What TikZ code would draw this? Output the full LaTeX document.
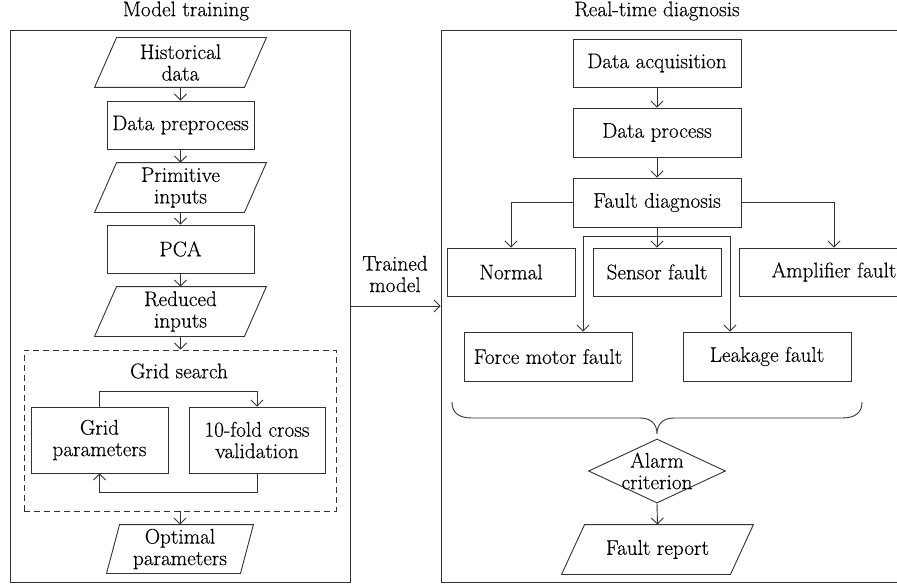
\documentclass[tikz,border=0pt]{standalone}
\usepackage{fontspec}
\setmainfont{Latin Modern Roman}[FakeBold=0.3]
\usetikzlibrary{arrows.meta,shapes.geometric,calc}
\newcommand{\fsz}{\fontsize{21.2}{21.5}\selectfont}
\begin{document}
\begin{tikzpicture}[x=1pt,y=-1pt, line width=0.9pt,
  box/.style={draw=black!80, line width=0.9pt, rectangle, inner sep=0pt, align=center, font=\fsz},
  txt/.style={inner sep=0pt, align=center, font=\fsz},
  para/.style={inner sep=0pt, align=center, font=\fsz,
    append after command={\pgfextra{\draw[draw=black!80, line width=0.9pt]
      ([xshift=#1]\tikzlastnode.north west) -- ([xshift=#1]\tikzlastnode.north east) --
      ([xshift=-#1]\tikzlastnode.south east) -- ([xshift=-#1]\tikzlastnode.south west) -- cycle;}}},
  para/.default=11pt,
  arr/.style={draw=black!80, -{Straight Barb[length=6pt,width=12pt]}},
  ln/.style={draw=black!80}
]
\useasboundingbox (0,0) rectangle (897,586);
\clip (0,0) rectangle (897,586);

% titles
\node[txt] (t1) at (186,11) {Model training};
\node[txt] (t2) at (657,11) {Real-time diagnosis};

% frames
\node[box, minimum width=340pt, minimum height=552pt] (lframe) at (180,306) {};
\node[box, minimum width=519pt, minimum height=552pt] (rframe) at (700.5,306) {};

% left column
\node[para, minimum width=149pt, minimum height=49pt] (hist) at (180.5,62.5) {Historical\\data};
\node[box, minimum width=147pt, minimum height=48pt] (prep) at (180.5,125) {Data preprocess};
\node[para, minimum width=149pt, minimum height=49pt] (prim) at (180.5,187.5) {Primitive\\inputs};
\node[box, minimum width=147pt, minimum height=48pt] (pca) at (180.5,249) {PCA};
\node[para, minimum width=149pt, minimum height=49pt] (red) at (180.5,311.5) {Reduced\\inputs};
\node[box, dashed, dash pattern=on 6pt off 4pt, minimum width=312pt, minimum height=161pt] (gs) at (180,430.5) {};
\node[txt] (gst) at (179,371) {Grid search};
\node[box, minimum width=137pt, minimum height=66pt] (gp) at (99.5,440) {Grid\\parameters};
\node[box, minimum width=136pt, minimum height=66pt] (cv) at (257,440) {10-fold cross\\validation};
\node[para=6.5pt, minimum width=133pt, minimum height=48pt] (opt) at (180,549) {Optimal\\parameters};

\draw[arr] (hist.south) -- (prep.north);
\draw[arr] (prep.south) -- (prim.north);
\draw[arr] (prim.south) -- (pca.north);
\draw[arr] (pca.south) -- (red.north);
\draw[arr] (red.south) -- (red.south |- gs.north);
\draw[arr] (gp.north) -- ++(0,-15) -| (cv.north);
\draw[arr] (cv.south) -- ++(0,19) -| (gp.south);
\draw[arr] (opt.north |- gs.south) -- (opt.north);

% trained model
\draw[arr] (lframe.east) -- (lframe.east -| rframe.west);
\node[txt] (tm) at (395,274) {Trained\\model};

% right column
\node[box, minimum width=168pt, minimum height=48pt] (acq) at (657,63) {Data acquisition};
\node[box, minimum width=168pt, minimum height=49pt] (proc) at (657,132.5) {Data process};
\node[box, minimum width=168pt, minimum height=49pt] (diag) at (657,202.5) {Fault diagnosis};
\node[box, minimum width=128pt, minimum height=48pt] (normal) at (511,272) {Normal};
\node[box, minimum width=128pt, minimum height=48pt] (sensor) at (657,272) {Sensor fault};
\node[box, minimum width=190pt, minimum height=48pt] (amp) at (834,272) {Amplifier fault};
\node[box, minimum width=168pt, minimum height=49pt] (force) at (548,356.5) {Force motor fault};
\node[box, minimum width=168pt, minimum height=49pt] (leak) at (767,356.5) {Leakage fault};
\node[draw=black!80, line width=0.9pt, shape=diamond, inner sep=0pt, minimum width=137pt, minimum height=64pt,
  label={[txt]center:Alarm\\criterion}] (alarm) at (657,471) {};
\node[para=11.5pt, minimum width=168pt, minimum height=49pt] (report) at (657.5,549.5) {Fault report};

\coordinate (j1) at (583,236);
\coordinate (j2) at (730,236);

\draw[arr] (acq.south) -- (proc.north);
\draw[arr] (proc.south) -- (diag.north);
\draw[arr] (diag.west) -| (normal.north);
\draw[arr] (diag.east) -| (amp.north);
\draw[ln] (diag.south) -- (diag.south |- j1);
\draw[arr] (diag.south |- j1) -- (sensor.north);
\draw[arr] (j1 -| diag.south) -- (j1) -- (j1 |- force.north);
\draw[arr] (j1 -| diag.south) -- (j2) -- (j2 |- leak.north);

% brace
\draw[ln] (452,402) .. controls (452,413) and (459,418) .. (472,418) -- (640,418)
  .. controls (651,418) and (657,424) .. (657,434)
  .. controls (657,424) and (663,418) .. (674,418) -- (842,418)
  .. controls (855,418) and (862,413) .. (862,402);

\draw[arr] (alarm.south) -- (report.north);
\end{tikzpicture}
\end{document}
